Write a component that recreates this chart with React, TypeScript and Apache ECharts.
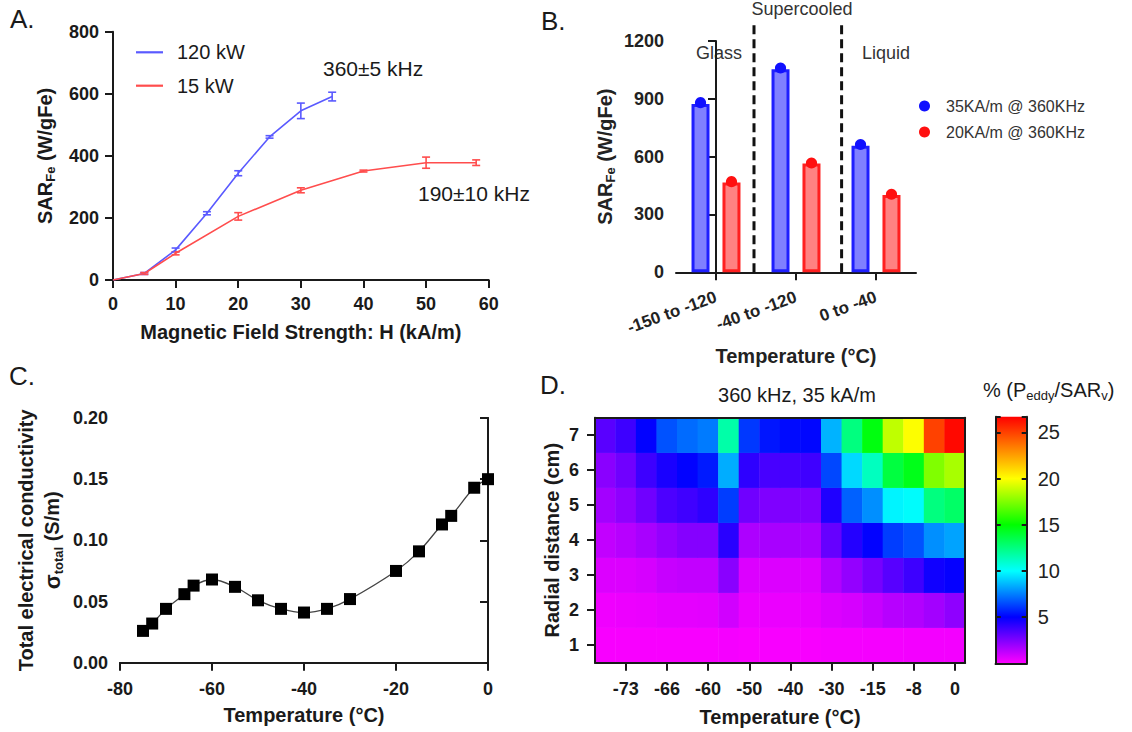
import React, { useEffect, useRef } from 'react';
import * as echarts from 'echarts';

const FONT = '"Liberation Sans", Arial, Helvetica, sans-serif';
const INK = '#1a1a1a';

// ---------- Panel A ----------
const fieldBlue = [0, 5, 10, 15, 20, 25, 30, 35];
const sarBlue = [0, 21, 97, 215, 344, 461, 545, 591];
const errBlue = [0, 3, 6, 5, 8, 4, 25, 14];
const fieldRed = [0, 5, 10, 20, 30, 40, 50, 58];
const sarRed = [0, 21, 86, 205, 289, 351, 378, 378];
const errRed = [0, 3, 5, 12, 8, 3, 18, 9];
const legendA = ['120 kW', '15 kW'];

// ---------- Panel B ----------
const tempRanges = ['-150 to -120', '-40 to -120', '0 to -40'];
const barBlue = [873, 1053, 656];
const barRed = [466, 564, 401];
const dotBlue = [880, 1060, 663];
const dotRed = [470, 567, 405];
const legendB = ['35KA/m @ 360KHz', '20KA/m @ 360KHz'];
const phaseBoundaries = [0.475, 1.57];
const phaseTop = 1300;

// ---------- Panel C ----------
const tempC = [-75, -73, -70, -66, -64, -60, -55, -50, -45, -40, -35, -30, -20, -15, -10, -8, -3, 0];
const sigmaTotal = [0.026, 0.032, 0.044, 0.056, 0.063, 0.068, 0.062, 0.051, 0.044, 0.041, 0.044, 0.052, 0.075, 0.091, 0.113, 0.120, 0.143, 0.150];

// ---------- Panel D ----------
const heatTemps = ['-75', '-73', '-70', '-66', '-64', '-60', '-55', '-50', '-45', '-40', '-35', '-30', '-20', '-15', '-10', '-8', '-3', '0'];
const radialCm = ['1', '2', '3', '4', '5', '6', '7'];
const eddyR1 = [0.15, 0.15, 0.15, 0.15, 0.15, 0.15, 0.2, 0.15, 0.15, 0.15, 0.15, 0.2, 0.2, 0.2, 0.2, 0.25, 0.25, 0.25];
const eddyR2 = [0.3, 0.35, 0.4, 0.5, 0.5, 0.55, 0.9, 0.4, 0.4, 0.4, 0.45, 0.7, 0.8, 1.1, 1.4, 1.5, 1.8, 2.2];
const eddyR3 = [0.7, 0.7, 0.8, 1.1, 1.2, 1.2, 2.3, 0.7, 0.7, 0.7, 0.7, 1.5, 2.1, 2.7, 3.3, 3.8, 4.7, 4.9];
const eddyR4 = [1.2, 1.4, 1.7, 2.1, 2.4, 2.4, 4.2, 1.6, 1.7, 1.7, 1.7, 3.0, 4.3, 5.0, 6.2, 6.6, 7.8, 8.2];
const eddyR5 = [1.8, 2.2, 2.8, 3.5, 3.75, 4.1, 6.2, 2.8, 2.5, 2.5, 2.5, 4.4, 6.9, 7.8, 9.8, 10.0, 12.5, 13.0];
const eddyR6 = [2.3, 2.8, 3.8, 4.5, 5.0, 5.5, 8.4, 4.1, 3.6, 3.6, 3.75, 6.4, 9.25, 11.25, 13.75, 14.5, 17.5, 18.3];
const eddyR7 = [3.25, 3.8, 5.0, 6.6, 7.1, 7.4, 11.7, 6.1, 5.4, 5.2, 5.1, 8.5, 12.5, 14.7, 18.75, 20.0, 25.0, 26.5];
const eddyRows = [eddyR1, eddyR2, eddyR3, eddyR4, eddyR5, eddyR6, eddyR7];
const COLOR_MAX = 26.7;
const colorStops: [number, number[]][] = [
  [0, [255, 0, 255]],
  [5, [0, 0, 255]],
  [10, [0, 255, 255]],
  [15, [0, 255, 0]],
  [20, [255, 255, 0]],
  [COLOR_MAX, [255, 0, 0]],
];

function rgb(c: number[]) {
  return `rgb(${Math.round(c[0])},${Math.round(c[1])},${Math.round(c[2])})`;
}
function colorAt(v: number) {
  for (let i = 0; i < colorStops.length - 1; i++) {
    const [v0, c0] = colorStops[i];
    const [v1, c1] = colorStops[i + 1];
    if (v <= v1 || i === colorStops.length - 2) {
      const t = Math.max(0, Math.min(1, (v - v0) / (v1 - v0)));
      return rgb([0, 1, 2].map((k) => c0[k] + (c1[k] - c0[k]) * t));
    }
  }
  return rgb(colorStops[0][1]);
}

const bold = (size: number) => ({ fontFamily: FONT, fontWeight: 'bold' as const, fontSize: size, color: INK });
const axisLine = { show: true, lineStyle: { color: INK, width: 2 } };
const tick = (len = 8) => ({ show: true, length: len, lineStyle: { color: INK, width: 2 } });

const errorBarItem = (color: string) => (params: any, api: any) => {
  const x = api.value(0);
  const y = api.value(1);
  const e = api.value(2);
  if (!e) return { type: 'group', children: [] };
  const hi = api.coord([x, y + e]);
  const lo = api.coord([x, y - e]);
  const cap = 4;
  const style = { stroke: color, lineWidth: 1.6 };
  return {
    type: 'group',
    children: [
      { type: 'line', shape: { x1: hi[0], y1: hi[1], x2: lo[0], y2: lo[1] }, style },
      { type: 'line', shape: { x1: hi[0] - cap, y1: hi[1], x2: hi[0] + cap, y2: hi[1] }, style },
      { type: 'line', shape: { x1: lo[0] - cap, y1: lo[1], x2: lo[0] + cap, y2: lo[1] }, style },
    ],
  };
};

const BLUE_LINE = '#5a5aff';
const RED_LINE = '#ff4d4d';

export default function App() {
  const ref = useRef<HTMLDivElement>(null);
  useEffect(() => {
    if (!ref.current) return;
    const chart = echarts.init(ref.current, undefined, { renderer: 'svg' });

    const heatData: number[][] = [];
    eddyRows.forEach((row, r) => row.forEach((v, c) => heatData.push([c, r, v])));
    const colorList = Array.from({ length: 120 }, (_, i) => colorAt((i * COLOR_MAX) / 119));
    const gradient = new echarts.graphic.LinearGradient(
      0, 1, 0, 0,
      colorStops.map(([v, c]) => ({ offset: v / COLOR_MAX, color: rgb(c) }))
    );
    const oddOnly = (i: number) => i % 2 === 1;

    const series: any[] = [
      // Panel A
      {
        name: legendA[0], type: 'line', xAxisIndex: 0, yAxisIndex: 0, symbol: 'none',
        data: fieldBlue.map((x, i) => [x, sarBlue[i]]),
        lineStyle: { color: BLUE_LINE, width: 1.6 }, itemStyle: { color: BLUE_LINE },
      },
      {
        name: legendA[1], type: 'line', xAxisIndex: 0, yAxisIndex: 0, symbol: 'none',
        data: fieldRed.map((x, i) => [x, sarRed[i]]),
        lineStyle: { color: RED_LINE, width: 1.6 }, itemStyle: { color: RED_LINE },
      },
      {
        type: 'custom', xAxisIndex: 0, yAxisIndex: 0, renderItem: errorBarItem(BLUE_LINE),
        data: fieldBlue.map((x, i) => [x, sarBlue[i], errBlue[i]]), encode: { x: 0, y: 1 }, silent: true,
      },
      {
        type: 'custom', xAxisIndex: 0, yAxisIndex: 0, renderItem: errorBarItem(RED_LINE),
        data: fieldRed.map((x, i) => [x, sarRed[i], errRed[i]]), encode: { x: 0, y: 1 }, silent: true,
      },
      // Panel B
      {
        name: 'mean35', type: 'bar', xAxisIndex: 1, yAxisIndex: 1, data: barBlue, barWidth: 18, barGap: '72%',
        itemStyle: { color: '#8080ff', borderColor: '#1f1fff', borderWidth: 3 },
      },
      {
        name: 'mean20', type: 'bar', xAxisIndex: 1, yAxisIndex: 1, data: barRed, barWidth: 18, barGap: '72%',
        itemStyle: { color: '#ff8282', borderColor: '#ff2020', borderWidth: 3 },
      },
      {
        name: legendB[0], type: 'pictorialBar', xAxisIndex: 1, yAxisIndex: 1, data: dotBlue, barWidth: 18, barGap: '72%',
        symbol: 'circle', symbolSize: [11, 11], symbolPosition: 'end', symbolOffset: [0, '-50%'],
        itemStyle: { color: '#1010ff' }, z: 5,
      },
      {
        name: legendB[1], type: 'pictorialBar', xAxisIndex: 1, yAxisIndex: 1, data: dotRed, barWidth: 18, barGap: '72%',
        symbol: 'circle', symbolSize: [11, 11], symbolPosition: 'end', symbolOffset: [0, '-50%'],
        itemStyle: { color: '#ff1010' }, z: 5,
      },
      ...phaseBoundaries.map((b) => ({
        type: 'line', xAxisIndex: 2, yAxisIndex: 1, symbol: 'none', clip: false, silent: true,
        data: [[b, 0], [b, phaseTop]],
        lineStyle: { color: '#111', width: 3, type: [9, 5] },
      })),
      // Panel C
      {
        type: 'line', xAxisIndex: 3, yAxisIndex: 2, smooth: 0.35,
        data: tempC.map((t, i) => [t, sigmaTotal[i]]),
        symbol: 'rect', symbolSize: 12, itemStyle: { color: '#000' },
        lineStyle: { color: '#444', width: 1.3 },
      },
      // Panel D heatmap
      {
        type: 'heatmap', xAxisIndex: 5, yAxisIndex: 4, data: heatData,
        itemStyle: { borderWidth: 0 }, emphasis: { disabled: true },
      },
      // colorbar
      {
        type: 'bar', xAxisIndex: 7, yAxisIndex: 6, data: [COLOR_MAX], barWidth: '100%', silent: true,
        itemStyle: { color: gradient },
      },
    ];
    const heatIndex = series.findIndex((s) => s.type === 'heatmap');

    const option: any = {
      animation: false,
      backgroundColor: '#fff',
      textStyle: { fontFamily: FONT },
      grid: [
        { left: 113, top: 31.7, width: 375.7, height: 248.3 },
        { left: 676, top: 41, width: 240, height: 231.3 },
        { left: 120, top: 418, width: 368, height: 244.7 },
        { left: 595, top: 417.7, width: 370.2, height: 245 },
        { left: 995.7, top: 416.7, width: 31, height: 246.6 },
      ],
      legend: [
        {
          data: legendA, orient: 'vertical', left: 131, top: 37.3, icon: 'rect', itemWidth: 27, itemHeight: 2.2, itemGap: 13.4,
          textStyle: { fontFamily: FONT, fontSize: 20, color: INK, lineHeight: 20, padding: [0, 0, 0, 9] },
        },
        {
          data: legendB, orient: 'vertical', left: 914, top: 92, icon: 'circle', itemWidth: 11, itemHeight: 11, itemGap: 8,
          textStyle: { fontFamily: FONT, fontSize: 16, color: '#333', lineHeight: 18, padding: [0, 0, 0, 11] },
        },
      ],
      visualMap: [
        { type: 'continuous', show: false, seriesIndex: heatIndex, min: 0, max: COLOR_MAX, inRange: { color: colorList } },
      ],
      xAxis: [
        {
          gridIndex: 0, type: 'value', min: 0, max: 60, interval: 10,
          axisLine, axisTick: tick(8), splitLine: { show: false },
          axisLabel: { ...bold(18), margin: 15 },
          name: 'Magnetic Field Strength: H (kA/m)', nameLocation: 'middle', nameGap: 40,
          nameTextStyle: { ...bold(20), lineHeight: 24 },
        },
        {
          gridIndex: 1, type: 'category', data: tempRanges,
          axisLine, axisTick: { ...tick(8), alignWithLabel: true },
          axisLabel: { ...bold(17), rotate: 20, margin: 24, color: '#222' },
          name: 'Temperature (°C)', nameLocation: 'middle', nameGap: 72,
          nameTextStyle: { ...bold(20), lineHeight: 24, color: '#222' },
        },
        { gridIndex: 1, type: 'value', min: -0.5, max: 2.5, show: false },
        {
          gridIndex: 2, type: 'value', min: -80, max: 0, interval: 20,
          axisLine, axisTick: tick(8), splitLine: { show: false },
          axisLabel: { ...bold(18), margin: 17 },
          name: 'Temperature (°C)', nameLocation: 'middle', nameGap: 40,
          nameTextStyle: { ...bold(20), lineHeight: 24 },
        },
        {
          gridIndex: 2, type: 'value', position: 'top', min: -80, max: 0,
          axisLine, axisTick: { show: false }, axisLabel: { show: false }, splitLine: { show: false },
        },
        {
          gridIndex: 3, type: 'category', data: heatTemps, z: 10,
          axisLine, axisTick: { ...tick(8), alignWithLabel: true, interval: oddOnly },
          axisLabel: { ...bold(18), margin: 17, interval: oddOnly },
          name: 'Temperature (°C)', nameLocation: 'middle', nameGap: 42,
          nameTextStyle: { ...bold(20), lineHeight: 24 },
        },
        {
          gridIndex: 3, type: 'category', data: heatTemps, position: 'top', z: 10,
          axisLine, axisTick: { show: false }, axisLabel: { show: false },
        },
        {
          gridIndex: 4, type: 'category', data: ['cb'], z: 10,
          axisLine, axisTick: { show: false }, axisLabel: { show: false },
        },
        {
          gridIndex: 4, type: 'category', data: ['cb'], position: 'top', z: 10,
          axisLine, axisTick: { show: false }, axisLabel: { show: false },
        },
      ],
      yAxis: [
        {
          gridIndex: 0, type: 'value', min: 0, max: 800, interval: 200,
          axisLine, axisTick: tick(8), splitLine: { show: false },
          axisLabel: { ...bold(18), margin: 14, formatter: (v: number) => String(v) },
          name: '{a|SAR}{b|Fe}{a| (W/gFe)}', nameLocation: 'middle', nameGap: 56,
          nameTextStyle: {
            ...bold(20),
            rich: {
              a: { ...bold(20), lineHeight: 24 },
              b: { ...bold(13), lineHeight: 12, verticalAlign: 'bottom' },
            },
          },
        },
        {
          gridIndex: 1, type: 'value', min: 0, max: 1200, interval: 300,
          axisLine, axisTick: tick(8), splitLine: { show: false },
          axisLabel: { ...bold(18), margin: 12, color: '#222', formatter: (v: number) => String(v) },
          name: '{a|SAR}{b|Fe}{a| (W/gFe)}', nameLocation: 'middle', nameGap: 59,
          nameTextStyle: {
            ...bold(20),
            rich: {
              a: { ...bold(20), lineHeight: 24, color: '#222' },
              b: { ...bold(13), lineHeight: 12, verticalAlign: 'bottom', color: '#222' },
            },
          },
        },
        {
          gridIndex: 2, type: 'value', min: 0, max: 0.2, interval: 0.05,
          axisLine, axisTick: tick(8), splitLine: { show: false },
          axisLabel: { ...bold(18), margin: 12, formatter: (v: number) => v.toFixed(2) },
          name: '{t|Total electrical conductivity}\n{s|σ}{b|total}{t| (S/m)}', nameLocation: 'middle', nameGap: 55,
          nameTextStyle: {
            ...bold(20),
            rich: {
              t: { ...bold(20), lineHeight: 26 },
              s: { ...bold(22), lineHeight: 26 },
              b: { ...bold(13), lineHeight: 14, verticalAlign: 'bottom' },
            },
          },
        },
        {
          gridIndex: 2, type: 'value', position: 'right', min: 0, max: 0.2,
          axisLine, axisTick: { show: false }, axisLabel: { show: false }, splitLine: { show: false },
        },
        {
          gridIndex: 3, type: 'category', data: radialCm, z: 10,
          axisLine, axisTick: { ...tick(8), alignWithLabel: true },
          axisLabel: { ...bold(18), margin: 16 },
          name: 'Radial distance (cm)', nameLocation: 'middle', nameGap: 31,
          nameTextStyle: { ...bold(20), lineHeight: 24 },
        },
        {
          gridIndex: 3, type: 'category', data: radialCm, position: 'right', z: 10,
          axisLine, axisTick: { show: false }, axisLabel: { show: false },
        },
        {
          gridIndex: 4, type: 'value', position: 'right', min: 0, max: COLOR_MAX, interval: 5, z: 10,
          axisLine, axisTick: { show: true, inside: true, length: 5, lineStyle: { color: INK, width: 2 } },
          splitLine: { show: false },
          axisLabel: {
            fontFamily: FONT, fontSize: 20, color: '#222', margin: 11,
            formatter: (v: number) => (v > 0 && v < COLOR_MAX ? String(v) : ''),
          },
        },
        {
          gridIndex: 4, type: 'value', position: 'left', min: 0, max: COLOR_MAX, interval: 5, z: 10,
          axisLine, axisTick: { show: true, inside: true, length: 5, lineStyle: { color: INK, width: 2 } },
          splitLine: { show: false }, axisLabel: { show: false },
        },
      ],
      graphic: [
        { type: 'text', x: 10, y: 19, style: { text: 'A.', fontFamily: FONT, fontSize: 26, fill: INK, textVerticalAlign: 'middle' } },
        { type: 'text', x: 541, y: 21, style: { text: 'B.', fontFamily: FONT, fontSize: 26, fill: INK, textVerticalAlign: 'middle' } },
        { type: 'text', x: 9, y: 376, style: { text: 'C.', fontFamily: FONT, fontSize: 26, fill: INK, textVerticalAlign: 'middle' } },
        { type: 'text', x: 540, y: 385, style: { text: 'D.', fontFamily: FONT, fontSize: 26, fill: INK, textVerticalAlign: 'middle' } },
        { type: 'text', x: 323, y: 68, style: { text: '360±5 kHz', fontFamily: FONT, fontSize: 21, fill: INK, textVerticalAlign: 'middle' } },
        { type: 'text', x: 418, y: 193, style: { text: '190±10 kHz', fontFamily: FONT, fontSize: 21, fill: INK, textVerticalAlign: 'middle' } },
        { type: 'text', x: 719, y: 53, style: { text: 'Glass', fontFamily: FONT, fontSize: 18, fill: '#333', textAlign: 'center', textVerticalAlign: 'middle' } },
        { type: 'text', x: 802, y: 9, style: { text: 'Supercooled', fontFamily: FONT, fontSize: 18, fill: '#333', textAlign: 'center', textVerticalAlign: 'middle' } },
        { type: 'text', x: 886, y: 53, style: { text: 'Liquid', fontFamily: FONT, fontSize: 18, fill: '#333', textAlign: 'center', textVerticalAlign: 'middle' } },
        { type: 'text', x: 797, y: 395, style: { text: '360 kHz, 35 kA/m', fontFamily: FONT, fontSize: 20, fill: INK, textAlign: 'center', textVerticalAlign: 'middle' } },
        {
          type: 'text', x: 983, y: 390,
          style: {
            text: '{a|% (P}{b|eddy}{a|/SAR}{b|v}{a|)}', textVerticalAlign: 'middle',
            rich: {
              a: { fontFamily: FONT, fontSize: 20, fill: INK, lineHeight: 24 },
              b: { fontFamily: FONT, fontSize: 13, fill: INK, lineHeight: 12, verticalAlign: 'bottom' },
            },
          },
        },
      ],
      series,
    };

    chart.setOption(option);
    return () => chart.dispose();
  }, []);

  return (
    <div
      ref={ref}
      style={{ position: 'fixed', left: 0, top: 0, width: 1132, height: 732, background: '#fff' }}
    />
  );
}
